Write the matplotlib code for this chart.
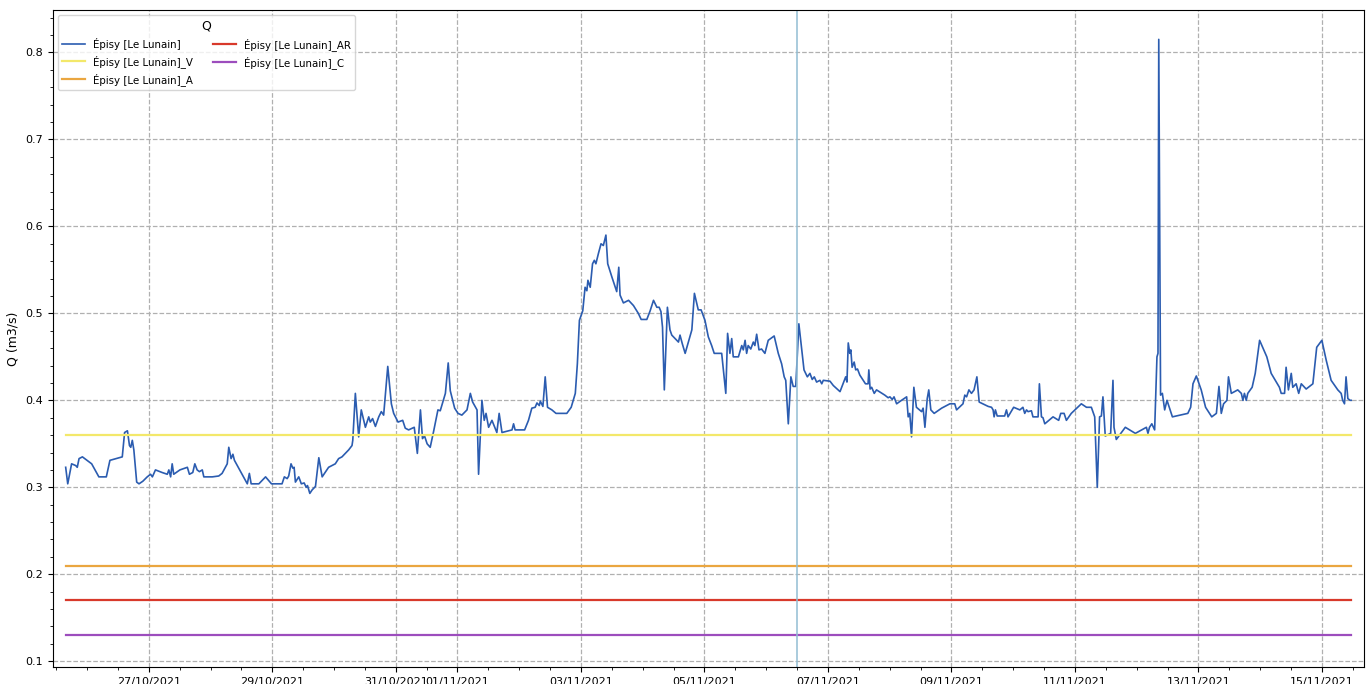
import pandas as pd
import numpy as np
import matplotlib
matplotlib.use("Agg")
import matplotlib.pyplot as plt
import matplotlib.dates as mdates
from matplotlib.ticker import MultipleLocator

# Data: hours since 25/10/2021 00:00 and flow Q (m3/s)
start = pd.Timestamp("2021-10-25 00:00")
hours = [
    15.7, 16.5, 18.0, 19.6, 20.2, 20.9, 22.2, 25.8, 28.6, 31.5, 32.9, 37.7, 38.6, 39.7,
    40.5, 41.0, 41.6, 42.2, 43.3, 44.2, 45.7, 47.4, 48.7, 49.4, 50.6, 53.2, 55.2, 55.8,
    56.5, 57.1, 57.7, 60.1, 63.0, 63.8, 65.1, 65.9, 66.8, 67.7, 68.8, 69.4, 72.7, 75.2,
    76.5, 78.5, 79.1, 80.0, 80.7, 81.3, 86.3, 87.1, 87.8, 90.8, 93.4, 95.7, 99.8, 100.7,
    101.8, 102.4, 103.3, 104.0, 104.5, 105.0, 106.3, 107.3, 108.4, 109.2, 109.7, 110.6,
    111.5, 112.8, 114.1, 115.4, 117.9, 120.5, 121.8, 123.1, 124.4, 125.7, 127.0, 127.3,
    128.3, 129.6, 130.6, 132.2, 133.5, 134.1, 135.0, 136.1, 137.4, 138.4, 139.3, 140.9,
    142.3, 143.2, 144.9, 146.7, 147.7, 149.0, 151.2, 152.4, 153.6, 154.4, 155.2, 156.2,
    157.4, 158.7, 160.4, 161.3, 163.3, 164.4, 165.2, 166.9, 168.2, 169.7, 171.7, 173.0,
    173.9, 175.6, 176.2, 177.5, 178.4, 179.1, 180.1, 181.4, 183.3, 184.2, 185.3, 189.2,
    189.8, 190.4, 194.1, 195.6, 196.9, 198.2, 198.9, 199.8, 200.2, 201.2, 202.1, 203.0,
    204.7, 206.3, 210.5, 212.2, 213.8, 214.6, 215.4, 216.7, 217.6, 218.3, 218.7, 219.6,
    220.5, 221.2, 221.8, 222.8, 223.8, 224.7, 225.7, 226.4, 228.0, 229.9, 230.7, 231.2,
    232.5, 234.5, 236.4, 238.3, 239.4, 241.6, 242.9, 244.2, 245.5, 246.4, 247.1, 247.7,
    248.4, 249.6, 250.6, 251.3, 252.6, 253.9, 254.5, 255.4, 256.5, 259.1, 260.1, 261.6,
    262.7, 264.2, 265.5, 266.8, 267.8, 270.7, 271.5, 272.3, 273.0, 273.9, 274.6, 275.2,
    277.2, 278.5, 279.1, 279.8, 280.4, 281.0, 282.0, 283.0, 283.6, 284.3, 285.2, 286.2,
    287.5, 288.8, 291.1, 292.7, 294.0, 295.0, 295.6, 296.6, 297.6, 298.5, 299.5, 300.7,
    302.7, 304.0, 305.0, 305.9, 306.7, 307.6, 308.9, 309.6, 310.2, 312.8, 314.1, 316.7,
    318.9, 319.4, 319.9, 320.5, 320.9, 321.4, 322.2, 322.8, 323.5, 324.4, 325.7, 326.6,
    327.6, 327.9, 328.4, 329.0, 330.0, 330.9, 334.1, 335.4, 336.1, 337.0, 337.7, 338.7,
    340.6, 342.6, 343.2, 343.8, 344.5, 345.4, 346.4, 348.4, 349.0, 349.7, 350.6, 351.2,
    352.0, 353.3, 356.2, 359.4, 361.3, 362.0, 364.5, 365.2, 365.9, 366.8, 367.8, 368.8,
    369.9, 370.8, 374.3, 375.6, 376.2, 376.6, 377.1, 377.8, 380.7, 381.4, 382.0, 384.2,
    386.6, 387.8, 388.5, 389.2, 389.8, 391.1, 391.7, 393.7, 394.2, 395.0, 395.6, 396.3,
    399.5, 401.7, 402.5, 403.8, 404.7, 406.6, 410.5, 412.5, 414.4, 415.7, 416.7, 417.6,
    418.3, 418.9, 419.8, 421.9, 422.8, 423.2, 424.1, 427.6, 431.5, 435.8, 436.4, 437.0,
    437.9, 439.0, 439.9, 440.3, 440.6, 441.3, 442.0, 442.9, 443.8, 445.9, 451.9, 453.0,
    453.9, 455.2, 457.1, 458.8, 461.2, 463.0, 464.0, 464.9, 465.8, 467.1, 467.7, 468.8,
    471.3, 472.7, 473.3, 473.9, 474.6, 475.2, 476.9, 478.1, 479.8, 482.6, 484.3, 487.5,
    488.2, 489.5, 490.1, 491.0, 492.1, 492.7, 494.0, 495.0, 496.0, 497.9, 500.5, 502.0,
    504.0, 505.7, 507.6, 510.2, 511.5, 512.1, 512.8, 513.4, 514.1, 515.0, 515.4,
]
q = [
    0.323, 0.304, 0.327, 0.325, 0.323, 0.333, 0.335, 0.327, 0.312, 0.312, 0.331, 0.335, 0.363, 0.365,
    0.348, 0.346, 0.354, 0.343, 0.306, 0.304, 0.307, 0.312, 0.315, 0.312, 0.320, 0.317, 0.315, 0.320,
    0.312, 0.327, 0.315, 0.320, 0.323, 0.315, 0.317, 0.327, 0.320, 0.318, 0.320, 0.312, 0.312, 0.313,
    0.316, 0.327, 0.346, 0.333, 0.338, 0.331, 0.304, 0.316, 0.304, 0.304, 0.312, 0.304, 0.304, 0.312,
    0.310, 0.313, 0.327, 0.322, 0.323, 0.306, 0.312, 0.304, 0.305, 0.300, 0.302, 0.293, 0.297, 0.301,
    0.334, 0.312, 0.323, 0.327, 0.333, 0.335, 0.339, 0.343, 0.348, 0.354, 0.408, 0.358, 0.389, 0.369,
    0.381, 0.375, 0.379, 0.370, 0.381, 0.387, 0.383, 0.439, 0.396, 0.385, 0.375, 0.377, 0.368, 0.366,
    0.369, 0.339, 0.389, 0.356, 0.359, 0.350, 0.346, 0.364, 0.389, 0.388, 0.408, 0.443, 0.411, 0.391,
    0.385, 0.383, 0.389, 0.408, 0.398, 0.389, 0.315, 0.400, 0.377, 0.385, 0.369, 0.377, 0.363, 0.385,
    0.363, 0.366, 0.373, 0.366, 0.366, 0.377, 0.391, 0.392, 0.397, 0.394, 0.399, 0.393, 0.427, 0.392,
    0.389, 0.385, 0.385, 0.392, 0.408, 0.442, 0.492, 0.503, 0.530, 0.526, 0.538, 0.530, 0.557, 0.561,
    0.557, 0.569, 0.580, 0.578, 0.590, 0.557, 0.542, 0.525, 0.553, 0.521, 0.512, 0.515, 0.509, 0.500,
    0.493, 0.493, 0.503, 0.515, 0.507, 0.507, 0.502, 0.484, 0.412, 0.507, 0.481, 0.475, 0.471, 0.467,
    0.475, 0.465, 0.454, 0.481, 0.523, 0.504, 0.504, 0.492, 0.473, 0.463, 0.454, 0.454, 0.431, 0.408,
    0.477, 0.454, 0.471, 0.450, 0.450, 0.463, 0.458, 0.469, 0.454, 0.463, 0.459, 0.467, 0.463, 0.476,
    0.458, 0.459, 0.454, 0.469, 0.474, 0.454, 0.442, 0.427, 0.423, 0.373, 0.427, 0.416, 0.416, 0.488,
    0.435, 0.427, 0.431, 0.424, 0.427, 0.421, 0.423, 0.419, 0.423, 0.422, 0.417, 0.410, 0.427, 0.421,
    0.466, 0.454, 0.458, 0.438, 0.444, 0.435, 0.436, 0.429, 0.423, 0.419, 0.419, 0.435, 0.413, 0.415,
    0.408, 0.412, 0.406, 0.403, 0.404, 0.401, 0.404, 0.396, 0.400, 0.404, 0.381, 0.385, 0.358, 0.415,
    0.392, 0.387, 0.391, 0.369, 0.402, 0.412, 0.389, 0.385, 0.391, 0.396, 0.396, 0.389, 0.396, 0.406,
    0.404, 0.412, 0.408, 0.412, 0.427, 0.398, 0.393, 0.392, 0.389, 0.381, 0.389, 0.382, 0.382, 0.389,
    0.381, 0.392, 0.389, 0.392, 0.385, 0.389, 0.387, 0.388, 0.381, 0.381, 0.419, 0.381, 0.380, 0.373,
    0.381, 0.377, 0.385, 0.385, 0.377, 0.385, 0.396, 0.392, 0.392, 0.381, 0.300, 0.381, 0.382, 0.404,
    0.359, 0.362, 0.423, 0.369, 0.355, 0.369, 0.362, 0.369, 0.362, 0.369, 0.373, 0.366, 0.450, 0.454,
    0.815, 0.406, 0.408, 0.389, 0.400, 0.381, 0.385, 0.392, 0.419, 0.428, 0.412, 0.392, 0.381, 0.385,
    0.416, 0.385, 0.396, 0.400, 0.427, 0.408, 0.412, 0.408, 0.400, 0.408, 0.400, 0.408, 0.415, 0.431,
    0.469, 0.450, 0.431, 0.415, 0.408, 0.408, 0.438, 0.412, 0.431, 0.415, 0.419, 0.408, 0.419, 0.413,
    0.419, 0.461, 0.469, 0.446, 0.423, 0.412, 0.408, 0.400, 0.396, 0.427, 0.402, 0.400, 0.400,
]

# Threshold levels
thresholds = [
    ("Épisy [Le Lunain]_V", 0.36, "#f3e86a"),
    ("Épisy [Le Lunain]_A", 0.21, "#eaa640"),
    ("Épisy [Le Lunain]_AR", 0.17, "#d8392b"),
    ("Épisy [Le Lunain]_C", 0.13, "#9c4dbd"),
]
now_line = pd.Timestamp("2021-11-06 12:00")

times = start + pd.to_timedelta(hours, unit="h")

fig, ax = plt.subplots(figsize=(13.72, 6.84), dpi=100)
fig.subplots_adjust(left=0.0385, right=0.9942, top=0.985, bottom=0.025)

ax.plot(times, q, color="#2b5cb0", lw=1.2, label="Épisy [Le Lunain]")
for name, level, col in thresholds:
    ax.plot([times[0], times[-1]], [level, level], color=col, lw=1.6, label=name)
ax.axvline(now_line, color="#92bdd3", lw=1.1)

ax.margins(x=0.01)
ax.set_ylim(0.0935, 0.8485)

ax.xaxis.set_major_locator(mdates.DayLocator(bymonthday=range(1, 32, 2)))
ax.xaxis.set_major_formatter(mdates.DateFormatter("%d/%m/%Y"))
ax.xaxis.set_minor_locator(mdates.HourLocator(byhour=[0, 12]))
ax.yaxis.set_major_locator(MultipleLocator(0.1))
ax.yaxis.set_minor_locator(MultipleLocator(0.02))
ax.tick_params(axis="both", which="major", labelsize=8)

ax.grid(True, which="major", linestyle="--", color="#b0b0b0", lw=0.9)
ax.set_ylabel("Q (m3/s)", fontsize=9)

ax.legend(title="Q", loc="upper left", ncol=2, fontsize=7.4, title_fontsize=9,
          handlelength=2.2)

plt.savefig("out.png", dpi=100)
